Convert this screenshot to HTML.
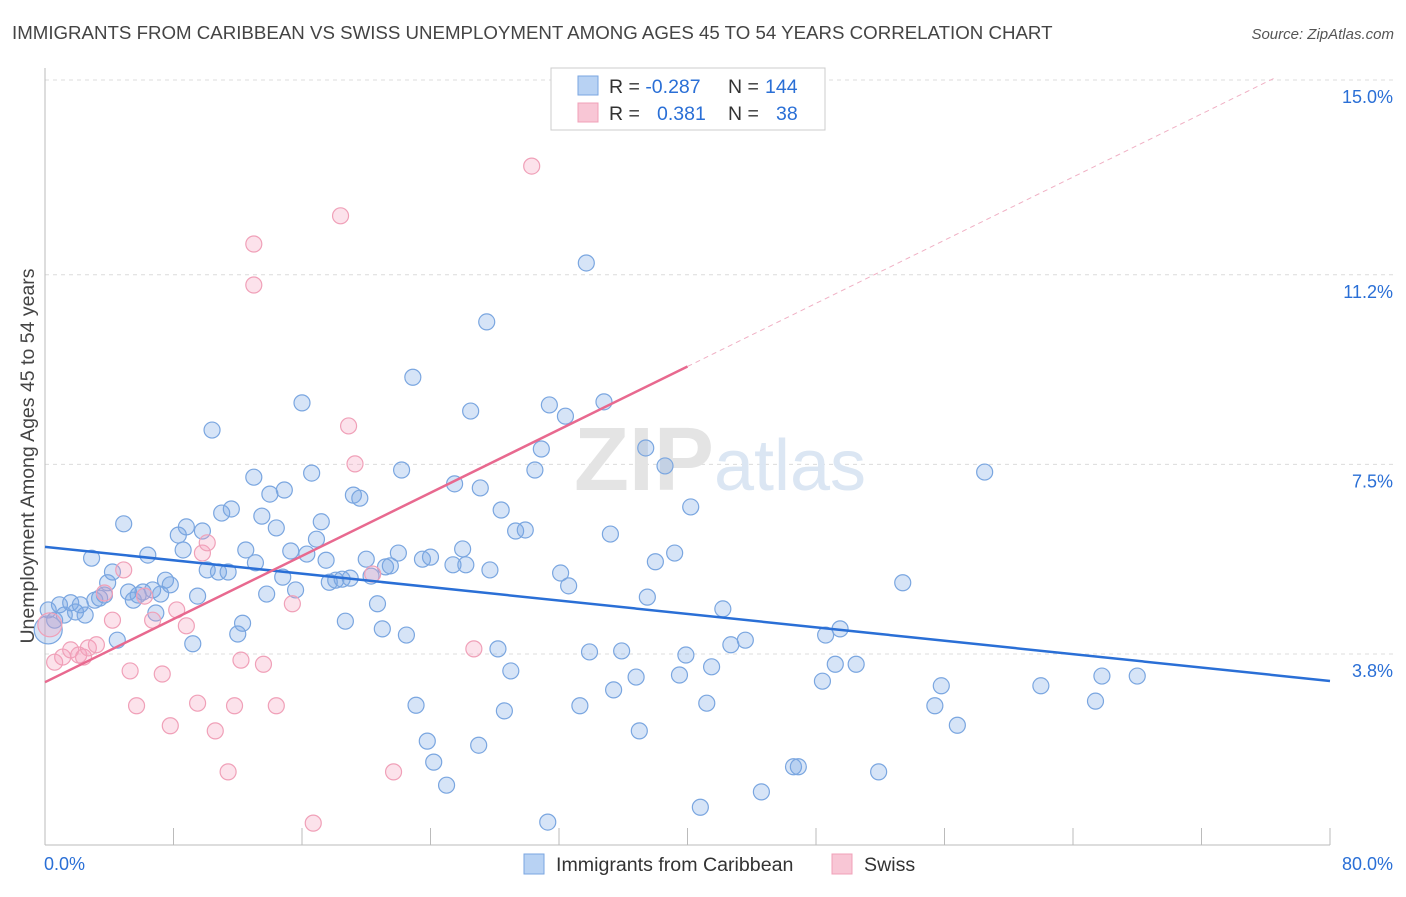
<!DOCTYPE html>
<html><head><meta charset="utf-8"><style>
body{margin:0;background:#fff;font-family:"Liberation Sans",sans-serif;}
svg text{font-family:"Liberation Sans",sans-serif;}
</style></head><body>
<svg id="chart" width="1406" height="892" xmlns="http://www.w3.org/2000/svg">
<text x="12" y="39" font-size="18.7" fill="#444">IMMIGRANTS FROM CARIBBEAN VS SWISS UNEMPLOYMENT AMONG AGES 45 TO 54 YEARS CORRELATION CHART</text>
<text x="1394" y="39" font-size="15" fill="#555" text-anchor="end" font-style="italic">Source: ZipAtlas.com</text>
<g id="grid"></g>
<text x="720" y="490" font-size="90" fill="#e4e4e4" text-anchor="middle" font-family="Liberation Serif" font-weight="bold">ZIP<tspan fill="#dbe6f3" font-family="Liberation Sans" font-weight="normal" font-size="72">atlas</tspan></text>
<g id="pts"></g>
<g id="lines"></g>
<text transform="translate(34,456) rotate(-90)" font-size="19.5" fill="#444" text-anchor="middle">Unemployment Among Ages 45 to 54 years</text>
<g>
<rect x="551" y="68" width="274" height="62" fill="#fff" stroke="#ccc"/>
<rect x="578" y="76" width="20" height="19" fill="#b8d2f3" stroke="#7aa6e0"/>
<text x="609" y="93" font-size="19.5" fill="#333">R = <tspan fill="#2a6fd6">-0.287</tspan><tspan x="728">N = </tspan><tspan x="765" fill="#2a6fd6">144</tspan></text>
<rect x="578" y="103" width="20" height="19" fill="#f8c6d5" stroke="#f0a0b8"/>
<text x="609" y="120" font-size="19.5" fill="#333">R = <tspan x="657" fill="#2a6fd6">0.381</tspan><tspan x="728">N = </tspan><tspan x="776" fill="#2a6fd6">38</tspan></text>
</g>
<g>
<rect x="524" y="854" width="20" height="20" fill="#b8d2f3" stroke="#7aa6e0"/>
<text x="556" y="871" font-size="19.6" fill="#333">Immigrants from Caribbean</text>
<rect x="832" y="854" width="20" height="20" fill="#f8c6d5" stroke="#f0a0b8"/>
<text x="864" y="871" font-size="19.6" fill="#333">Swiss</text>
</g>
</svg>
<script>
const yTicks=[15.0,11.2,7.5,3.8];
const yTickLabels=["15.0%","11.2%","7.5%","3.8%"];
const xTickVals=[0,8,16,24,32,40,48,56,64,72,80];
const xEndLabels=["0.0%","80.0%"];
const blueX=[0.2,0.6,0.9,1.2,1.6,1.9,2.2,2.5,2.9,3.1,3.4,3.7,3.9,4.2,4.5,4.9,5.2,5.5,5.8,6.1,6.4,6.7,6.9,7.2,7.5,7.8,8.3,8.6,8.8,9.2,9.5,9.8,10.1,10.4,10.8,11.0,11.4,11.6,12.0,12.3,12.5,13.0,13.1,13.5,13.8,14.0,14.4,14.8,14.9,15.3,15.6,16.0,16.3,16.6,16.9,17.2,17.5,17.7,18.1,18.5,18.7,19.0,19.2,19.6,20.0,20.3,20.7,21.0,21.2,21.5,22.0,22.2,22.5,22.9,23.1,23.5,23.8,24.0,24.2,25.0,25.4,25.5,26.0,26.2,26.5,27.0,27.1,27.5,27.7,28.2,28.4,28.6,29.0,29.3,29.9,30.5,30.9,31.3,31.4,32.1,32.4,32.6,33.3,33.7,33.9,34.8,35.2,35.4,35.9,36.8,37.0,37.4,37.5,38.0,38.6,39.2,39.5,39.9,40.2,40.8,41.2,41.5,42.2,42.7,43.6,44.6,46.6,46.9,48.4,48.6,49.2,49.5,50.5,51.9,53.4,55.4,55.8,56.8,58.5,62.0,65.4,65.8,68.0,0.2];
const blueY=[4.66,4.46,4.76,4.56,4.80,4.62,4.76,4.56,5.67,4.85,4.89,4.95,5.19,5.40,4.07,6.34,5.01,4.85,4.95,5.01,5.73,5.05,4.60,4.97,5.24,5.15,6.12,5.83,6.28,4.00,4.93,6.20,5.44,8.17,5.40,6.55,5.40,6.63,4.19,4.40,5.83,7.25,5.58,6.49,4.97,6.92,6.26,5.30,7.0,5.81,5.05,8.70,5.75,7.33,6.04,6.38,5.63,5.20,5.24,5.26,4.44,5.28,6.90,6.84,5.65,5.32,4.78,4.29,5.50,5.52,5.77,7.39,4.17,9.20,2.80,5.65,2.10,5.69,1.69,1.24,5.54,7.12,5.85,5.54,8.54,2.02,7.04,10.28,5.44,3.90,6.61,2.69,3.47,6.20,6.22,7.39,7.80,0.52,8.66,5.38,8.44,5.13,2.79,11.43,3.84,8.72,6.14,3.10,3.86,3.35,2.30,7.82,4.91,5.60,7.47,5.77,3.39,3.78,6.67,0.81,2.84,3.55,4.68,3.98,4.07,1.11,1.60,1.60,3.27,4.17,3.60,4.29,3.60,1.50,5.19,2.79,3.18,2.41,7.35,3.18,2.88,3.37,3.37,4.27];
const pinkX=[0.3,0.6,1.1,1.6,2.1,2.4,2.7,3.2,3.7,4.2,4.9,5.3,5.7,6.2,6.7,7.3,7.8,8.2,8.8,9.5,9.8,10.1,10.6,11.4,11.8,12.2,13.0,13.0,13.6,14.4,15.4,16.7,18.4,18.9,19.3,20.4,21.7,26.7,30.3];
const pinkY=[4.37,3.64,3.74,3.88,3.78,3.74,3.92,3.98,4.99,4.46,5.44,3.47,2.79,4.93,4.46,3.41,2.40,4.66,4.35,2.84,5.77,5.97,2.30,1.50,2.79,3.68,11.0,11.8,3.60,2.79,4.78,0.50,12.35,8.25,7.51,5.36,1.50,3.90,13.32];
const blueFit=[5.89,-0.0327];
const pinkFit=[3.25,0.154];
const NS="http://www.w3.org/2000/svg";
const X=v=>45+v*(1285/80);
const Y=v=>80+(15-v)*51.25;
function mk(tag,attrs,parent){const e=document.createElementNS(NS,tag);for(const k in attrs)e.setAttribute(k,attrs[k]);parent.appendChild(e);return e;}
const grid=document.getElementById('grid');
yTicks.forEach((t,i)=>{
  const l=mk('line',{x1:45,x2:1395,y1:Y(t),y2:Y(t),stroke:'#dcdcdc','stroke-dasharray':'4,4'},grid);
  
  
  const tx=mk('text',{x:1393,y:Y(t)+23,'font-size':18,fill:'#2a6fd6','text-anchor':'end'},grid);
  tx.textContent=yTickLabels[i];
  
  
});
const ax=mk('line',{x1:45,x2:45,y1:68,y2:845,stroke:'#bbb'},grid);


const bx=mk('line',{x1:45,x2:1330,y1:845,y2:845,stroke:'#bbb'},grid);


xTickVals.forEach(v=>{
  const t=mk('line',{x1:X(v),x2:X(v),y1:828,y2:845,stroke:'#bbb'},grid);
  
  
});
const xl0=mk('text',{x:44,y:870,'font-size':18,fill:'#2a6fd6'},grid);xl0.textContent=xEndLabels[0];


const xl1=mk('text',{x:1393,y:870,'font-size':18,fill:'#2a6fd6','text-anchor':'end'},grid);xl1.textContent=xEndLabels[1];


const pts=document.getElementById('pts');
blueX.forEach((x,i)=>{
  const big=i===blueX.length-1;
  const c=mk('circle',{cx:X(x),cy:Y(blueY[i]),r:big?14:8,fill:'rgba(120,165,230,0.3)',stroke:'#7aa6e0','stroke-width':1.2},pts);
  
  
});
pinkX.forEach((x,i)=>{
  const c=mk('circle',{cx:X(x),cy:Y(pinkY[i]),r:i===0?12:8,fill:'rgba(245,160,190,0.3)',stroke:'#f0a0b8','stroke-width':1.2},pts);
  
  
});
const lines=document.getElementById('lines');
const bl=mk('line',{x1:X(0),y1:Y(blueFit[0]),x2:X(80),y2:Y(blueFit[0]+blueFit[1]*80),stroke:'#2a6fd6','stroke-width':2.5},lines);


const pl=mk('line',{x1:X(0),y1:Y(pinkFit[0]),x2:X(40),y2:Y(pinkFit[0]+pinkFit[1]*40),stroke:'#e8698f','stroke-width':2.5},lines);


const pd=mk('line',{x1:X(40),y1:Y(pinkFit[0]+pinkFit[1]*40),x2:X(76.5),y2:Y(pinkFit[0]+pinkFit[1]*76.5),stroke:'#f0b0c4','stroke-width':1,'stroke-dasharray':'5,4'},lines);


</script>
</body></html>
